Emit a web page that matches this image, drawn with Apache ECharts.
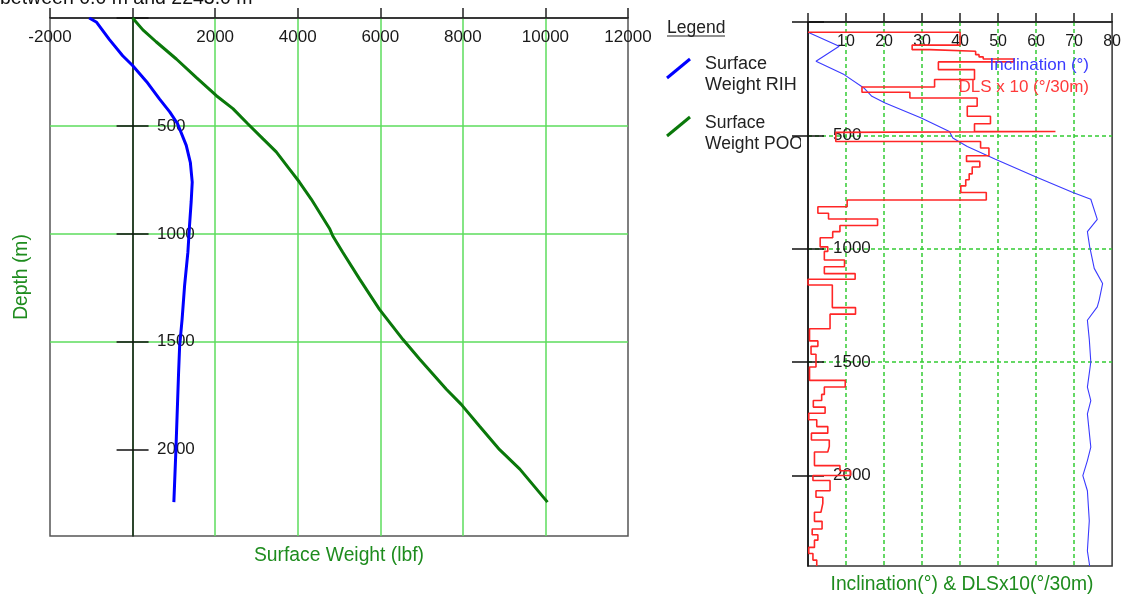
<!DOCTYPE html>
<html><head><meta charset="utf-8">
<script src="https://cdn.jsdelivr.net/npm/echarts@6/dist/echarts.min.js"></script>
<style>html,body{margin:0;padding:0;background:#fff}#c{width:1124px;height:597px}</style>
</head><body><div id="c"></div>
<script>
// ---- Left chart: surface weight vs depth ----
const rihDepth  = [0,20,100,175,220,295,375,435,490,590,670,760,850,960,1085,1240,1395,1520,1640,1750,2000,2243];
const rihWeight = [-1050,-870,-560,-240,0,340,650,900,1090,1300,1400,1445,1420,1380,1340,1260,1200,1140,1115,1095,1050,1000];
const poohDepth  = [0,55,110,190,275,360,420,490,560,620,700,760,840,975,1010,1085,1210,1350,1490,1580,1720,1790,1890,2000,2090,2243];
const poohWeight = [0,250,570,1060,1540,2030,2430,2790,3160,3480,3800,4040,4330,4770,4850,5090,5500,5980,6550,6950,7600,7960,8400,8890,9380,10050];
const weightLabels = [-2000,2000,4000,6000,8000,10000,12000];
const depthTicks = [0,500,1000,1500,2000];
const depthLabels = [500,1000,1500,2000];

// ---- Right chart: inclination and DLS x10 vs depth ----
const incDepth = [45,107,173,232,291,328,357,424,483,512,549,605,682,752,782,871,925,991,1087,1154,1227,1257,1316,1400,1500,1611,1670,1729,1876,1935,2001,2068,2200,2333,2400];
const incValue = [0,8.2,2.1,9.5,14.7,16.8,20.3,29.8,37.2,38.1,41.9,49.3,59.7,69.7,74.4,76.1,73.5,74.1,75.3,77.5,76.6,76.1,73.5,74,74.4,73.5,74.4,73.5,74.4,73.5,72.3,73.5,74,73.5,74.1];
// interval boundaries (n+1) and DLS x10 value per interval (n)
const dlsDepth = [45,102,122,129,144,154,163,176,210,254,287,310,335,372,416,449,483,487,527,556,590,615,640,670,696,723,752,785,815,844,869,898,925,952,992,1012,1050,1080,1110,1135,1160,1260,1289,1353,1407,1431,1466,1522,1581,1610,1643,1670,1699,1726,1755,1785,1814,1844,1873,1897,1957,1980,2001,2023,2068,2097,2124,2163,2203,2237,2262,2286,2318,2345,2374,2400];
const dlsValue = [40,27.4,32,44.1,45,46.1,54.1,34.3,43.8,33.3,14.2,26.8,44.5,41.9,48,43.8,65.1,7.3,45.4,47.6,41.7,45.2,43.2,42.4,41.5,40.2,46.9,10.3,2.6,5.4,18.3,8.4,6.5,3.2,5.2,4.3,9.6,4.3,12.4,0,6.4,12.5,5.8,0.4,2.6,0.8,2.1,0.4,9.8,4.3,3.6,1.4,4.5,0.2,2.3,5.2,0.9,5.6,5.2,1.7,8.4,11.2,1.3,5.8,2.1,3.9,3.4,1.7,3.7,1.1,2.6,1.7,0.2,1.3,2.3];
const incLabels = [10,20,30,40,50,60,70,80];

const FONT = '"Liberation Sans", Arial, sans-serif';
const GREEN_GRID = '#5cdc5c';
const NAME_GREEN = '#1e8c1e';
const TXT = '#1a1a1a';

const zip = (xs, ys) => xs.map((x, i) => [x, ys[i]]);
const dlsPath = [[0, dlsDepth[0]]];
dlsValue.forEach((v, i) => { dlsPath.push([v, dlsDepth[i]]); dlsPath.push([v, dlsDepth[i + 1]]); });

const chart = echarts.init(document.getElementById('c'), null, {renderer: 'canvas'});
const lbl = (extra) => Object.assign({color: TXT, fontSize: 17, fontFamily: FONT, formatter: (v) => String(v)}, extra);

chart.setOption({
  animation: false,
  backgroundColor: '#fff',
  grid: [
    {left: 50, right: 496, top: 18, bottom: 61, show: true, borderColor: '#555', borderWidth: 1.5},
    {left: 808, right: 8, top: 22, bottom: 31, show: true, borderColor: '#333', borderWidth: 1.5}
  ],
  xAxis: [
    {gridIndex: 0, type: 'value', position: 'top', min: -2000, max: 12000, interval: 2000,
     axisLine: {onZero: false, lineStyle: {color: '#222', width: 1.5}},
     axisTick: {inside: false, length: 10, lineStyle: {color: '#222', width: 1.5}},
     axisLabel: lbl({inside: true, margin: 11, customValues: weightLabels}),
     splitLine: {show: true, showMinLine: false, showMaxLine: false, lineStyle: {color: GREEN_GRID, width: 1.5}}},
    {gridIndex: 1, type: 'value', position: 'top', min: 0, max: 80, interval: 10,
     axisLine: {onZero: false, lineStyle: {color: '#222', width: 1.5}},
     axisTick: {inside: false, length: 9, lineStyle: {color: '#222', width: 1.5}},
     axisLabel: lbl({inside: true, margin: 12, fontSize: 16, customValues: incLabels}),
     splitLine: {show: true, showMinLine: false, showMaxLine: false, lineStyle: {color: '#33cc33', width: 1.5, type: [4, 3]}}},
    {gridIndex: 0, type: 'value', min: -2000, max: 12000, show: false}
  ],
  yAxis: [
    {gridIndex: 0, type: 'value', inverse: true, min: 0, max: 2400, interval: 500, position: 'left',
     axisLine: {onZero: true, onZeroAxisIndex: 0, lineStyle: {color: '#111', width: 1.5}},
     axisTick: {inside: true, length: 16, customValues: depthTicks, lineStyle: {color: '#111', width: 1.5}},
     axisLabel: lbl({inside: true, margin: 107, customValues: depthLabels}),
     splitLine: {show: true, showMinLine: false, showMaxLine: false, lineStyle: {color: GREEN_GRID, width: 1.5}}},
    {gridIndex: 0, type: 'value', inverse: true, min: 0, max: 2400, interval: 500, position: 'left',
     axisLine: {show: false, onZero: true, onZeroAxisIndex: 2},
     axisTick: {inside: false, length: 16, customValues: depthTicks, lineStyle: {color: '#111', width: 1.5}},
     axisLabel: {show: false}, splitLine: {show: false}},
    {gridIndex: 1, type: 'value', inverse: true, min: 0, max: 2400, interval: 500, position: 'left',
     axisLine: {onZero: false, lineStyle: {color: '#111', width: 1.5}},
     axisTick: {inside: true, length: 16, customValues: depthTicks, lineStyle: {color: '#111', width: 1.5}},
     axisLabel: lbl({inside: true, margin: 25, customValues: depthLabels}),
     splitLine: {show: true, showMinLine: false, showMaxLine: false, lineStyle: {color: '#33cc33', width: 1.5, type: [4, 3]}}},
    {gridIndex: 1, type: 'value', inverse: true, min: 0, max: 2400, interval: 500, position: 'left',
     axisLine: {show: false, onZero: false},
     axisTick: {inside: false, length: 16, customValues: depthTicks, lineStyle: {color: '#111', width: 1.5}},
     axisLabel: {show: false}, splitLine: {show: false}}
  ],
  series: [
    {name: 'Surface Weight RIH', type: 'line', xAxisIndex: 0, yAxisIndex: 0, data: zip(rihWeight, rihDepth),
     showSymbol: false, lineStyle: {color: '#0000ff', width: 3}, itemStyle: {color: '#0000ff'}},
    {name: 'Surface Weight POOH', type: 'line', xAxisIndex: 0, yAxisIndex: 0, data: zip(poohWeight, poohDepth),
     showSymbol: false, lineStyle: {color: '#0a780a', width: 3}, itemStyle: {color: '#0a780a'}},
    {name: 'Inclination (°)', type: 'line', xAxisIndex: 1, yAxisIndex: 2, data: zip(incValue, incDepth),
     showSymbol: false, lineStyle: {color: '#3a3aff', width: 1.1}, itemStyle: {color: '#3a3aff'}},
    {name: 'DLS x 10 (°/30m)', type: 'line', xAxisIndex: 1, yAxisIndex: 2, data: dlsPath,
     showSymbol: false, lineStyle: {color: '#ff2626', width: 1.6}, itemStyle: {color: '#ff2626'}}
  ],
  graphic: [
    {type: 'text', x: 0, y: 9, z: 5, style: {text: 'between 0.0 m and 2243.0 m', fill: '#111', font: '19.5px ' + FONT, align: 'left', verticalAlign: 'bottom'}},
    {type: 'text', x: 339, y: 556, style: {text: 'Surface Weight (lbf)', fill: NAME_GREEN, font: '19.3px ' + FONT, align: 'center', verticalAlign: 'middle'}},
    {type: 'text', x: 22, y: 277, rotation: Math.PI / 2, style: {text: 'Depth (m)', fill: NAME_GREEN, font: '19.3px ' + FONT, align: 'center', verticalAlign: 'middle'}},
    {type: 'text', x: 962, y: 585, style: {text: 'Inclination(°) & DLSx10(°/30m)', fill: NAME_GREEN, font: '19.3px ' + FONT, align: 'center', verticalAlign: 'middle'}},
    {type: 'text', x: 1089, y: 65, z: 5, style: {text: 'Inclination (°)', fill: '#3a3aff', font: '17px ' + FONT, align: 'right', verticalAlign: 'middle'}},
    {type: 'text', x: 1089, y: 87, z: 5, style: {text: 'DLS x 10 (°/30m)', fill: '#ff3a3a', font: '17px ' + FONT, align: 'right', verticalAlign: 'middle'}},
    {type: 'text', x: 667, y: 28, style: {text: 'Legend', fill: '#222', font: '17.5px ' + FONT, align: 'left', verticalAlign: 'middle'}},
    {type: 'line', shape: {x1: 667, y1: 36, x2: 725, y2: 36}, style: {stroke: '#222', lineWidth: 1}},
    {type: 'line', shape: {x1: 667, y1: 78, x2: 690, y2: 59}, style: {stroke: '#0000ff', lineWidth: 3}},
    {type: 'text', x: 705, y: 54, z: -3, style: {text: 'Surface\nWeight RIH', fill: '#222', font: '18px ' + FONT, lineHeight: 21, align: 'left', verticalAlign: 'top'}},
    {type: 'line', shape: {x1: 667, y1: 136, x2: 690, y2: 117}, style: {stroke: '#0a780a', lineWidth: 3}},
    {type: 'text', x: 705, y: 113, z: -3, style: {text: 'Surface\nWeight POOH', fill: '#222', font: '17.5px ' + FONT, lineHeight: 21, align: 'left', verticalAlign: 'top'}},
    {type: 'rect', z: -2, shape: {x: 801, y: 20, width: 323, height: 550}, style: {fill: '#fff'}}
  ]
});
</script>
</body></html>
